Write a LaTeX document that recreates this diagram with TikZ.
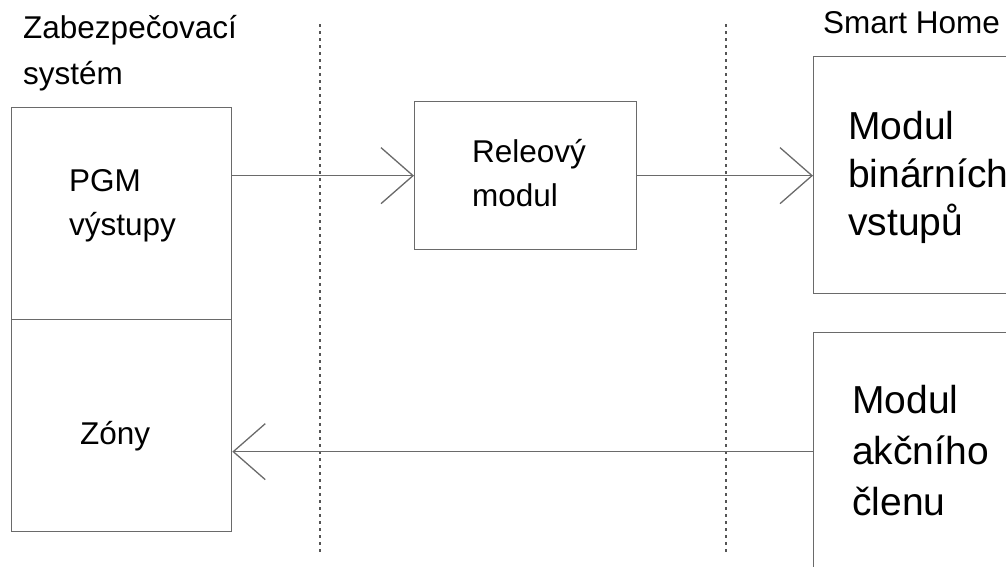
\documentclass[tikz,border=0pt]{standalone}
\usepackage{fontspec}
\setmainfont{Liberation Sans}
\usetikzlibrary{arrows.meta}
\definecolor{linegray}{HTML}{6A6A6A}
\definecolor{dotgray}{HTML}{555555}
\begin{document}
\begin{tikzpicture}[x=1pt,y=-1pt,
  box/.style={draw=linegray, line width=1.3pt, rectangle, inner sep=0pt, anchor=north west},
  lbl/.style={anchor=base west, inner sep=0pt, font=\fontsize{31.5}{37}\selectfont},
  big/.style={anchor=base west, inner sep=0pt, font=\fontsize{39}{46}\selectfont},
  arr/.style={draw=linegray, line width=1.3pt,
    -{Straight Barb[length=32pt,width=56pt,line width=1.3pt]}},
  sep/.style={draw=dotgray, line width=1.5pt, dash pattern=on 3pt off 4pt}]
\useasboundingbox (0,0) rectangle (1006,566);
\clip (0,0) rectangle (1006,566);

% lane separators
\coordinate (s1top) at (320,24);
\coordinate (s1bot) at (320,552);
\coordinate (s2top) at (726,24);
\coordinate (s2bot) at (726,552);
\draw[sep] (s1top) -- (s1bot);
\draw[sep] (s2top) -- (s2bot);

% alarm system side
\node[lbl] (zab) at (23,38) {Zabezpečovací};
\node[lbl] (sys) at (23,84) {systém};
\node[box, minimum width=220pt, minimum height=212pt] (pgm) at (11,107) {};
\node[box, minimum width=220pt, minimum height=212pt] (zony) at (11,319) {};
\node[lbl] (pgmA) at (69,191) {PGM};
\node[lbl] (pgmB) at (69,235) {výstupy};
\node[lbl] (zonyT) at (80,444) {Zóny};

% relay module
\node[box, minimum width=222pt, minimum height=148pt] (rel) at (414,101) {};
\node[lbl] (relA) at (472,162) {Releový};
\node[lbl] (relB) at (472,206) {modul};

% smart home side
\node[lbl] (sh) at (823,33) {Smart Home};
\node[box, minimum width=220pt, minimum height=237pt] (bin) at (813,56) {};
\node[big] (binA) at (848,139) {Modul};
\node[big] (binB) at (848,187) {binárních};
\node[big] (binC) at (848,235) {vstupů};
\node[box, minimum width=220pt, minimum height=238pt] (akc) at (813,332) {};
\node[big] (akcA) at (852,413) {Modul};
\node[big] (akcB) at (852,464) {akčního};
\node[big] (akcC) at (852,515) {členu};

% signal flow
\draw[arr] (pgm.east |- rel.west) -- (rel.west);
\draw[arr] (rel.east) -- (bin.west |- rel.east);
\draw[arr] (akc.west) -- (akc.west -| zony.east);
\end{tikzpicture}
\end{document}
